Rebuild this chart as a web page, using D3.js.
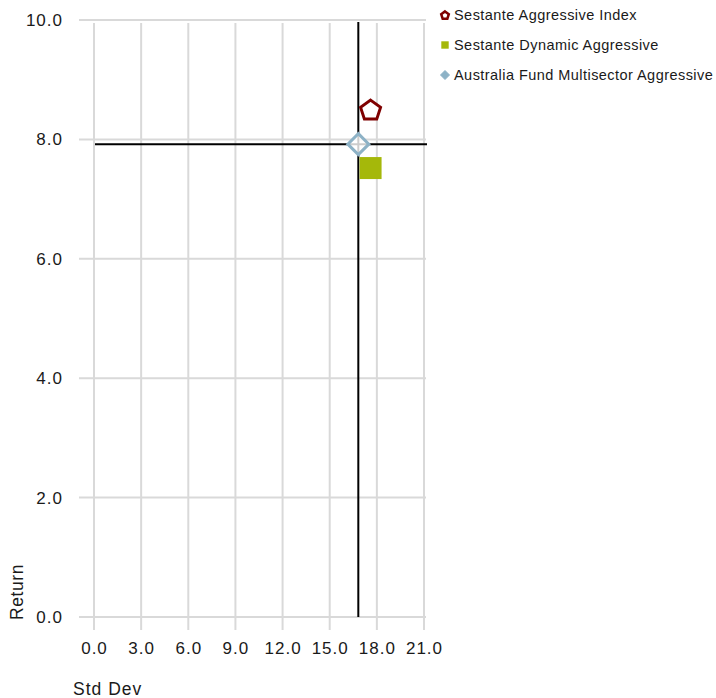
<!DOCTYPE html>
<html><head><meta charset="utf-8">
<script src="https://cdn.jsdelivr.net/npm/d3@7"></script>
<style>body{margin:0;background:#fff;} svg{display:block;font-family:"Liberation Sans",Arial,sans-serif;}</style>
</head><body>
<script>
const seriesNames = ["Sestante Aggressive Index", "Sestante Dynamic Aggressive", "Australia Fund Multisector Aggressive"];
const stdDevValues = [17.6, 17.6, 16.82];
const returnValues = [8.5, 7.52, 7.92];
const xTicks = [0, 3, 6, 9, 12, 15, 18, 21];
const yTicks = [0, 2, 4, 6, 8, 10];
const colors = ["#7f0000", "#a5b80a", "#8db2c6"];
const shapes = ["pentagon", "square", "diamond"];

const W = 716, H = 698;
const svg = d3.select("body").append("svg").attr("width", W).attr("height", H);
const x = d3.scaleLinear().domain([0, 21]).range([94, 424]);
const y = d3.scaleLinear().domain([0, 10]).range([617, 20]);

// gridlines
svg.append("g").selectAll("line").data(yTicks).join("line")
  .attr("x1", 79).attr("x2", 426).attr("y1", d => y(d)).attr("y2", d => y(d))
  .attr("stroke", "#d9d9d9").attr("stroke-width", 2);
svg.append("g").selectAll("line").data(xTicks).join("line")
  .attr("x1", d => x(d)).attr("x2", d => x(d)).attr("y1", 23).attr("y2", 630)
  .attr("stroke", "#d9d9d9").attr("stroke-width", 2);

// tick labels
svg.append("g").selectAll("text").data(yTicks).join("text")
  .attr("x", 63).attr("y", d => y(d)).attr("dy", "0.35em").attr("text-anchor", "end")
  .attr("font-size", 17).attr("letter-spacing", 1).attr("fill", "#1a1a1a").text(d => d.toFixed(1));
svg.append("g").selectAll("text").data(xTicks).join("text")
  .attr("x", d => x(d) + 0.5).attr("y", 648).attr("dy", "0.35em").attr("text-anchor", "middle")
  .attr("font-size", 17).attr("letter-spacing", 1).attr("fill", "#1a1a1a").text(d => d.toFixed(1));

// axis titles
svg.append("text").attr("x", 73).attr("y", 695).attr("font-size", 17.5).attr("letter-spacing", 1).attr("fill", "#1a1a1a").text("Std Dev");
svg.append("text").attr("transform", "translate(23,620) rotate(-90)").attr("font-size", 17.5).attr("letter-spacing", 0.6).attr("fill", "#1a1a1a").text("Return");

// crosshair for the fund
const fi = 2;
svg.append("line").attr("x1", x(0) + 1).attr("x2", 427).attr("y1", y(returnValues[fi])).attr("y2", y(returnValues[fi]))
  .attr("stroke", "#000").attr("stroke-width", 2);
svg.append("line").attr("x1", x(stdDevValues[fi])).attr("x2", x(stdDevValues[fi])).attr("y1", 22).attr("y2", y(0))
  .attr("stroke", "#000").attr("stroke-width", 2);

function shapePath(shape, r) {
  if (shape === "pentagon") {
    const pts = d3.range(5).map(i => {
      const a = -Math.PI / 2 + i * 2 * Math.PI / 5;
      return [r * Math.cos(a), r * Math.sin(a) + r * 0.1];
    });
    return "M" + pts.map(p => p.join(",")).join("L") + "Z";
  }
  if (shape === "square") return `M${-r},${-r}H${r}V${r}H${-r}Z`;
  return `M0,${-r}L${r},0L0,${r}L${-r},0Z`;
}

// markers
const marks = svg.append("g");
seriesNames.forEach((n, i) => {
  const g = marks.append("path")
    .attr("transform", `translate(${x(stdDevValues[i])},${y(returnValues[i])})`);
  if (shapes[i] === "pentagon") {
    g.attr("d", shapePath("pentagon", 10.5)).attr("fill", "#fff").attr("stroke", colors[i]).attr("stroke-width", 3).attr("stroke-linejoin", "miter");
  } else if (shapes[i] === "square") {
    g.attr("d", shapePath("square", 11)).attr("fill", colors[i]);
  } else {
    g.attr("d", shapePath("diamond", 10.5)).attr("fill", "#fff").attr("fill-opacity", 0.8).attr("stroke", colors[i]).attr("stroke-width", 3);
  }
});

// legend
const lg = svg.append("g");
seriesNames.forEach((n, i) => {
  const cy = 15 + i * 30;
  const p = lg.append("path").attr("transform", `translate(445,${cy})`);
  if (shapes[i] === "pentagon") p.attr("d", shapePath("pentagon", 4)).attr("fill", "#fff").attr("stroke", colors[i]).attr("stroke-width", 2.5);
  else if (shapes[i] === "square") p.attr("d", shapePath("square", 3.7)).attr("fill", colors[i]);
  else p.attr("d", shapePath("diamond", 4.5)).attr("fill", colors[i]).attr("stroke", colors[i]).attr("stroke-width", 1);
  lg.append("text").attr("x", 454).attr("y", cy).attr("dy", "0.35em").attr("font-size", 14.5).attr("letter-spacing", 0.45).attr("fill", "#1a1a1a").text(n);
});
</script>
</body></html>
